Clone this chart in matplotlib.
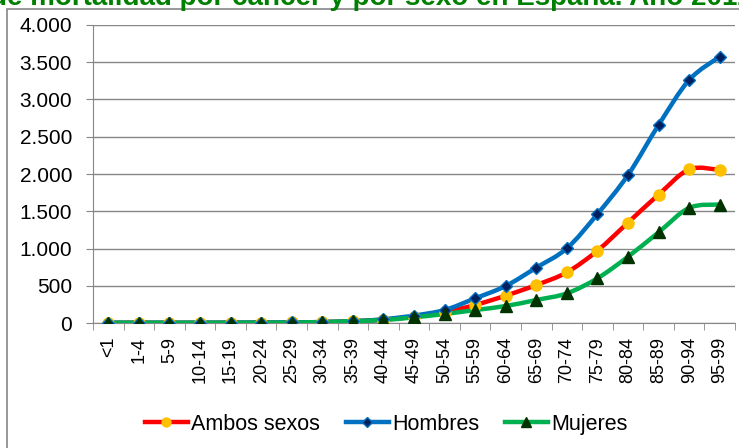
import numpy as np
import matplotlib
matplotlib.use("Agg")
import matplotlib.pyplot as plt
from matplotlib.path import Path
from matplotlib.patches import PathPatch, Rectangle
from matplotlib.lines import Line2D
from matplotlib.ticker import FuncFormatter

plt.rcParams['font.family'] = ['Liberation Sans', 'DejaVu Sans']

# age groups and mortality rates per 100.000
grupos = ['<1', '1-4', '5-9', '10-14', '15-19', '20-24', '25-29', '30-34', '35-39',
          '40-44', '45-49', '50-54', '55-59', '60-64', '65-69', '70-74', '75-79',
          '80-84', '85-89', '90-94', '95-99']
ambos = [3, 3, 3, 3, 4, 5, 7, 13, 24, 45, 85, 145, 242, 367, 510, 680, 971, 1347, 1723, 2062, 2055]
hombres = [3, 3, 3, 3, 5, 6, 8, 12, 24, 50, 100, 174, 331, 497, 743, 1002, 1463, 1987, 2658, 3262, 3575]
mujeres = [3, 3, 3, 3, 3, 4, 6, 13, 24, 40, 76, 121, 174, 228, 309, 398, 600, 890, 1217, 1545, 1590]

titulo = 'de mortalidad por cáncer y por sexo en España. Año 2012'


def smooth_path(x, y):
    # Catmull-Rom style bezier through the data points (like Excel smoothed lines)
    pts = np.column_stack([x, y]).astype(float)
    verts = [pts[0]]
    codes = [Path.MOVETO]
    n = len(pts)
    for i in range(n - 1):
        p0 = pts[i - 1] if i > 0 else pts[i]
        p1 = pts[i]
        p2 = pts[i + 1]
        p3 = pts[i + 2] if i + 2 < n else pts[i + 1]
        c1 = p1 + (p2 - p0) / 6.0
        c2 = p2 - (p3 - p1) / 6.0
        verts += [c1, c2, p2]
        codes += [Path.CURVE4] * 3
    return Path(verts, codes)


fig = plt.figure(figsize=(7.39, 4.48), dpi=100)
W, H = 739, 448
ax = fig.add_axes([93 / W, (H - 323) / H, (735 - 93) / W, (323 - 25) / H])

x = np.arange(len(grupos))
series = [
    (ambos, '#FF0000', 'o', '#FFC000', '#FFC000', 8, 'Ambos sexos'),
    (hombres, '#0070C0', 'D', '#002060', '#0070C0', 6, 'Hombres'),
    (mujeres, '#00B050', '^', '#003300', '#003300', 9, 'Mujeres'),
]
handles = []
for vals, lc, mk, mfc, mec, ms, lab in series:
    ax.add_patch(PathPatch(smooth_path(x, vals), fill=False, ec=lc, lw=3.2,
                           capstyle='round', joinstyle='round', zorder=3))
    ax.plot(x, vals, ls='none', marker=mk, mfc=mfc, mec=mec, mew=1, ms=ms, zorder=4)
    handles.append(Line2D([], [], color=lc, lw=3.2, marker=mk, mfc=mfc, mec=mec,
                          ms=ms * 0.8, label=lab))

ax.set_xlim(-0.5, len(grupos) - 0.5)
ax.set_ylim(0, 4000)
ax.set_yticks(range(0, 4001, 500))
ax.yaxis.set_major_formatter(FuncFormatter(lambda v, p: f'{int(v):,}'.replace(',', '.')))
ax.yaxis.grid(True, color='#868686', lw=1)
ax.set_axisbelow(True)

ax.set_xticks(x)
ax.set_xticklabels(grupos, rotation=90, fontsize=13)
ax.set_xticks(np.arange(-0.5, len(grupos)), minor=True)
ax.tick_params(axis='x', which='major', length=0, pad=10)
ax.tick_params(axis='x', which='minor', length=5, color='#868686')
ax.tick_params(axis='y', length=5, color='#868686', labelsize=15, pad=10)

for s in ['top', 'right']:
    ax.spines[s].set_visible(False)
for s in ['left', 'bottom']:
    ax.spines[s].set_color('#868686')

fig.legend(handles=handles, loc='center', bbox_to_anchor=(386 / W, (H - 424) / H),
           ncol=3, frameon=False, fontsize=15.5, handlelength=2.0,
           handletextpad=0.15, columnspacing=1.2)

fig.add_artist(Rectangle((7 / W, -0.1), 1.0, (H - 9) / H + 0.1,
                         transform=fig.transFigure, fill=False, ec='#868686', lw=1.2))
fig.text(-10 / W, 1 - 5 / H, titulo, color='#008000', fontsize=20, fontweight='bold',
         ha='left', va='baseline')

fig.savefig('out.png', dpi=100)
